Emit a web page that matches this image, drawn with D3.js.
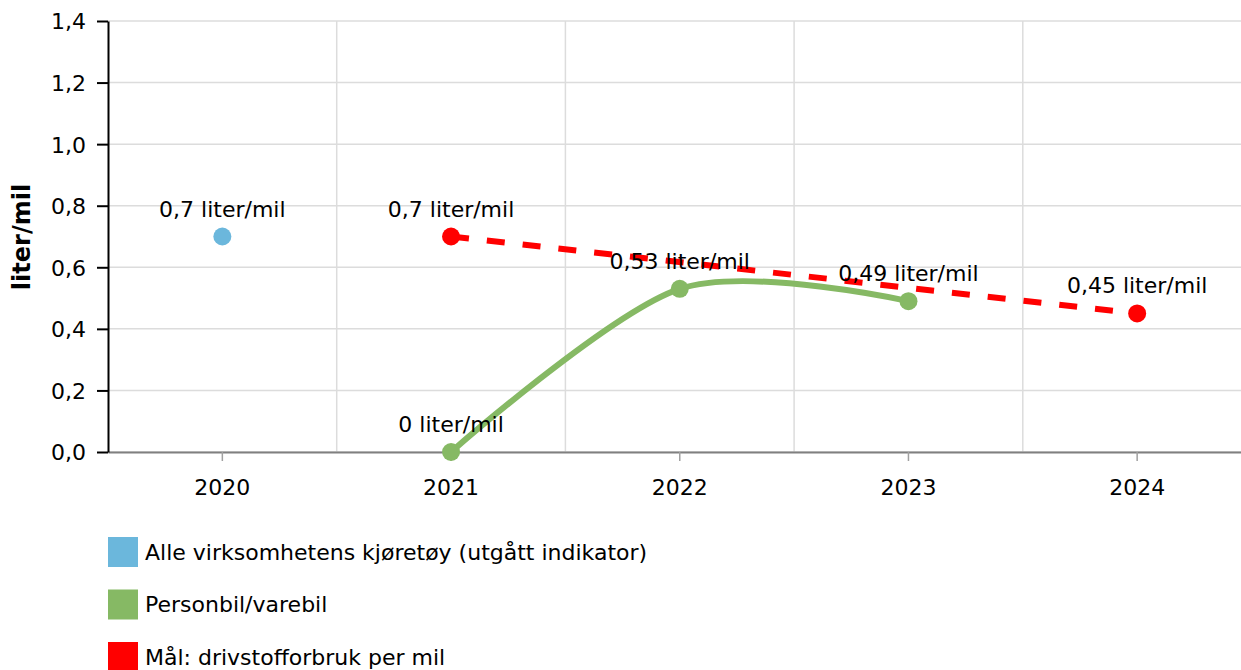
<!DOCTYPE html>
<html>
<head>
<meta charset="utf-8">
<script src="https://cdn.jsdelivr.net/npm/d3@7"></script>
<style>
  body { margin: 0; background: #fff; }
  text { font-family: "DejaVu Sans", Verdana, sans-serif; fill: #000; }
</style>
</head>
<body>
<div id="chart"></div>
<script>
// data
var years = ["2020", "2021", "2022", "2023", "2024"];

var alleYears = ["2020"];
var alleValues = [0.7];

var bilYears = ["2021", "2022", "2023"];
var bilValues = [0, 0.53, 0.49];

var maalYears = ["2021", "2024"];
var maalValues = [0.7, 0.45];

var yTicks = [0, 0.2, 0.4, 0.6, 0.8, 1.0, 1.2, 1.4];
var seriesNames = [
  "Alle virksomhetens kjøretøy (utgått indikator)",
  "Personbil/varebil",
  "Mål: drivstofforbruk per mil"
];
var yTitle = "liter/mil";

var colors = ["#6bb7dc", "#86b964", "#ff0000"];

var svgWidth = 1241;
var svgHeight = 670;

var margin = { top: 21, left: 108 };
var height = 431;
var width = 1143.5;   // last band runs past the window edge
var visibleWidth = svgWidth - margin.left;
var fontSize = "22px";

var svg = d3.select("#chart")
  .append("svg")
  .attr("width", svgWidth)
  .attr("height", svgHeight);

var chartGroup = svg.append("g")
  .attr("transform", `translate(${margin.left}, ${margin.top})`);

var x = d3.scaleBand()
  .domain(years)
  .range([0, width]);

var y = d3.scaleLinear()
  .domain([0, 1.4])
  .range([height, 0]);

var comma = v => String(v).replace(".", ",");
var xc = yr => x(yr) + x.bandwidth() / 2;

// grid
chartGroup.append("g")
  .selectAll("line")
  .data(yTicks)
  .enter()
  .append("line")
  .attr("x1", 0)
  .attr("x2", visibleWidth)
  .attr("y1", d => y(d))
  .attr("y2", d => y(d))
  .attr("stroke", "#dcdcdc")
  .attr("stroke-width", 1.5);

chartGroup.append("g")
  .selectAll("line")
  .data(years.slice(1))
  .enter()
  .append("line")
  .attr("x1", d => x(d))
  .attr("x2", d => x(d))
  .attr("y1", 0)
  .attr("y2", height)
  .attr("stroke", "#dcdcdc")
  .attr("stroke-width", 1.5);

// axes
var xAxis = chartGroup.append("g")
  .attr("transform", `translate(0, ${height})`)
  .call(d3.axisBottom(x).tickSize(9).tickPadding(18).tickSizeOuter(0));
xAxis.select(".domain").attr("stroke", "#808080").attr("stroke-width", 2);
xAxis.selectAll(".tick line").attr("stroke", "#a0a0a0").attr("stroke-width", 1.5);
xAxis.selectAll("text").style("font-size", fontSize).attr("fill", "#000");

var yAxis = chartGroup.append("g")
  .call(d3.axisLeft(y)
    .tickValues(yTicks)
    .tickSize(11)
    .tickPadding(11)
    .tickSizeOuter(0)
    .tickFormat(d => d3.format(".1f")(d).replace(".", ",")));
yAxis.select(".domain").attr("stroke", "#000").attr("stroke-width", 2);
yAxis.selectAll(".tick line").attr("stroke", "#000").attr("stroke-width", 2);
yAxis.selectAll("text").style("font-size", fontSize).attr("fill", "#000").attr("dy", "0.36em");

chartGroup.append("text")
  .attr("transform", "rotate(-90)")
  .attr("x", 0 - (237 - margin.top))
  .attr("y", 0 - margin.left + 22)
  .attr("dy", "0.35em")
  .attr("text-anchor", "middle")
  .style("font-size", "24px")
  .style("font-weight", "bold")
  .text(yTitle);

// series
var alle = alleYears.map((yr, i) => ({ year: yr, value: alleValues[i] }));
var bil = bilYears.map((yr, i) => ({ year: yr, value: bilValues[i] }));
var maal = maalYears.map((yr, i) => ({ year: yr, value: maalValues[i] }));

var line = d3.line()
  .x(d => xc(d.year))
  .y(d => y(d.value));

chartGroup.append("path")
  .datum(bil)
  .attr("d", line.curve(d3.curveCardinal.tension(0.1)))
  .attr("fill", "none")
  .attr("stroke", colors[1])
  .attr("stroke-width", 6);

chartGroup.append("path")
  .datum(maal)
  .attr("d", line.curve(d3.curveLinear))
  .attr("fill", "none")
  .attr("stroke", colors[2])
  .attr("stroke-width", 6)
  .attr("stroke-dasharray", "18,18");

var all = [alle, bil, maal];
all.forEach((series, k) => {
  chartGroup.selectAll(".pt" + k)
    .data(series)
    .enter()
    .append("circle")
    .attr("cx", d => xc(d.year))
    .attr("cy", d => y(d.value))
    .attr("r", 9)
    .attr("fill", colors[k]);
});

all.forEach((series, k) => {
  chartGroup.selectAll(".lbl" + k)
    .data(series)
    .enter()
    .append("text")
    .attr("x", d => xc(d.year))
    .attr("y", d => y(d.value) - 20)
    .attr("text-anchor", "middle")
    .style("font-size", fontSize)
    .text(d => comma(d.value) + " liter/mil");
});

// legend
var legend = svg.append("g")
  .attr("transform", "translate(108, 537)");

var rows = legend.selectAll("g")
  .data(seriesNames)
  .enter()
  .append("g")
  .attr("transform", (d, i) => `translate(0, ${i * 52.5})`);

rows.append("rect")
  .attr("width", 30)
  .attr("height", 30)
  .attr("fill", (d, i) => colors[i]);

rows.append("text")
  .attr("x", 37)
  .attr("y", 15)
  .attr("dy", "0.36em")
  .style("font-size", fontSize)
  .text(d => d);
</script>
</body>
</html>
